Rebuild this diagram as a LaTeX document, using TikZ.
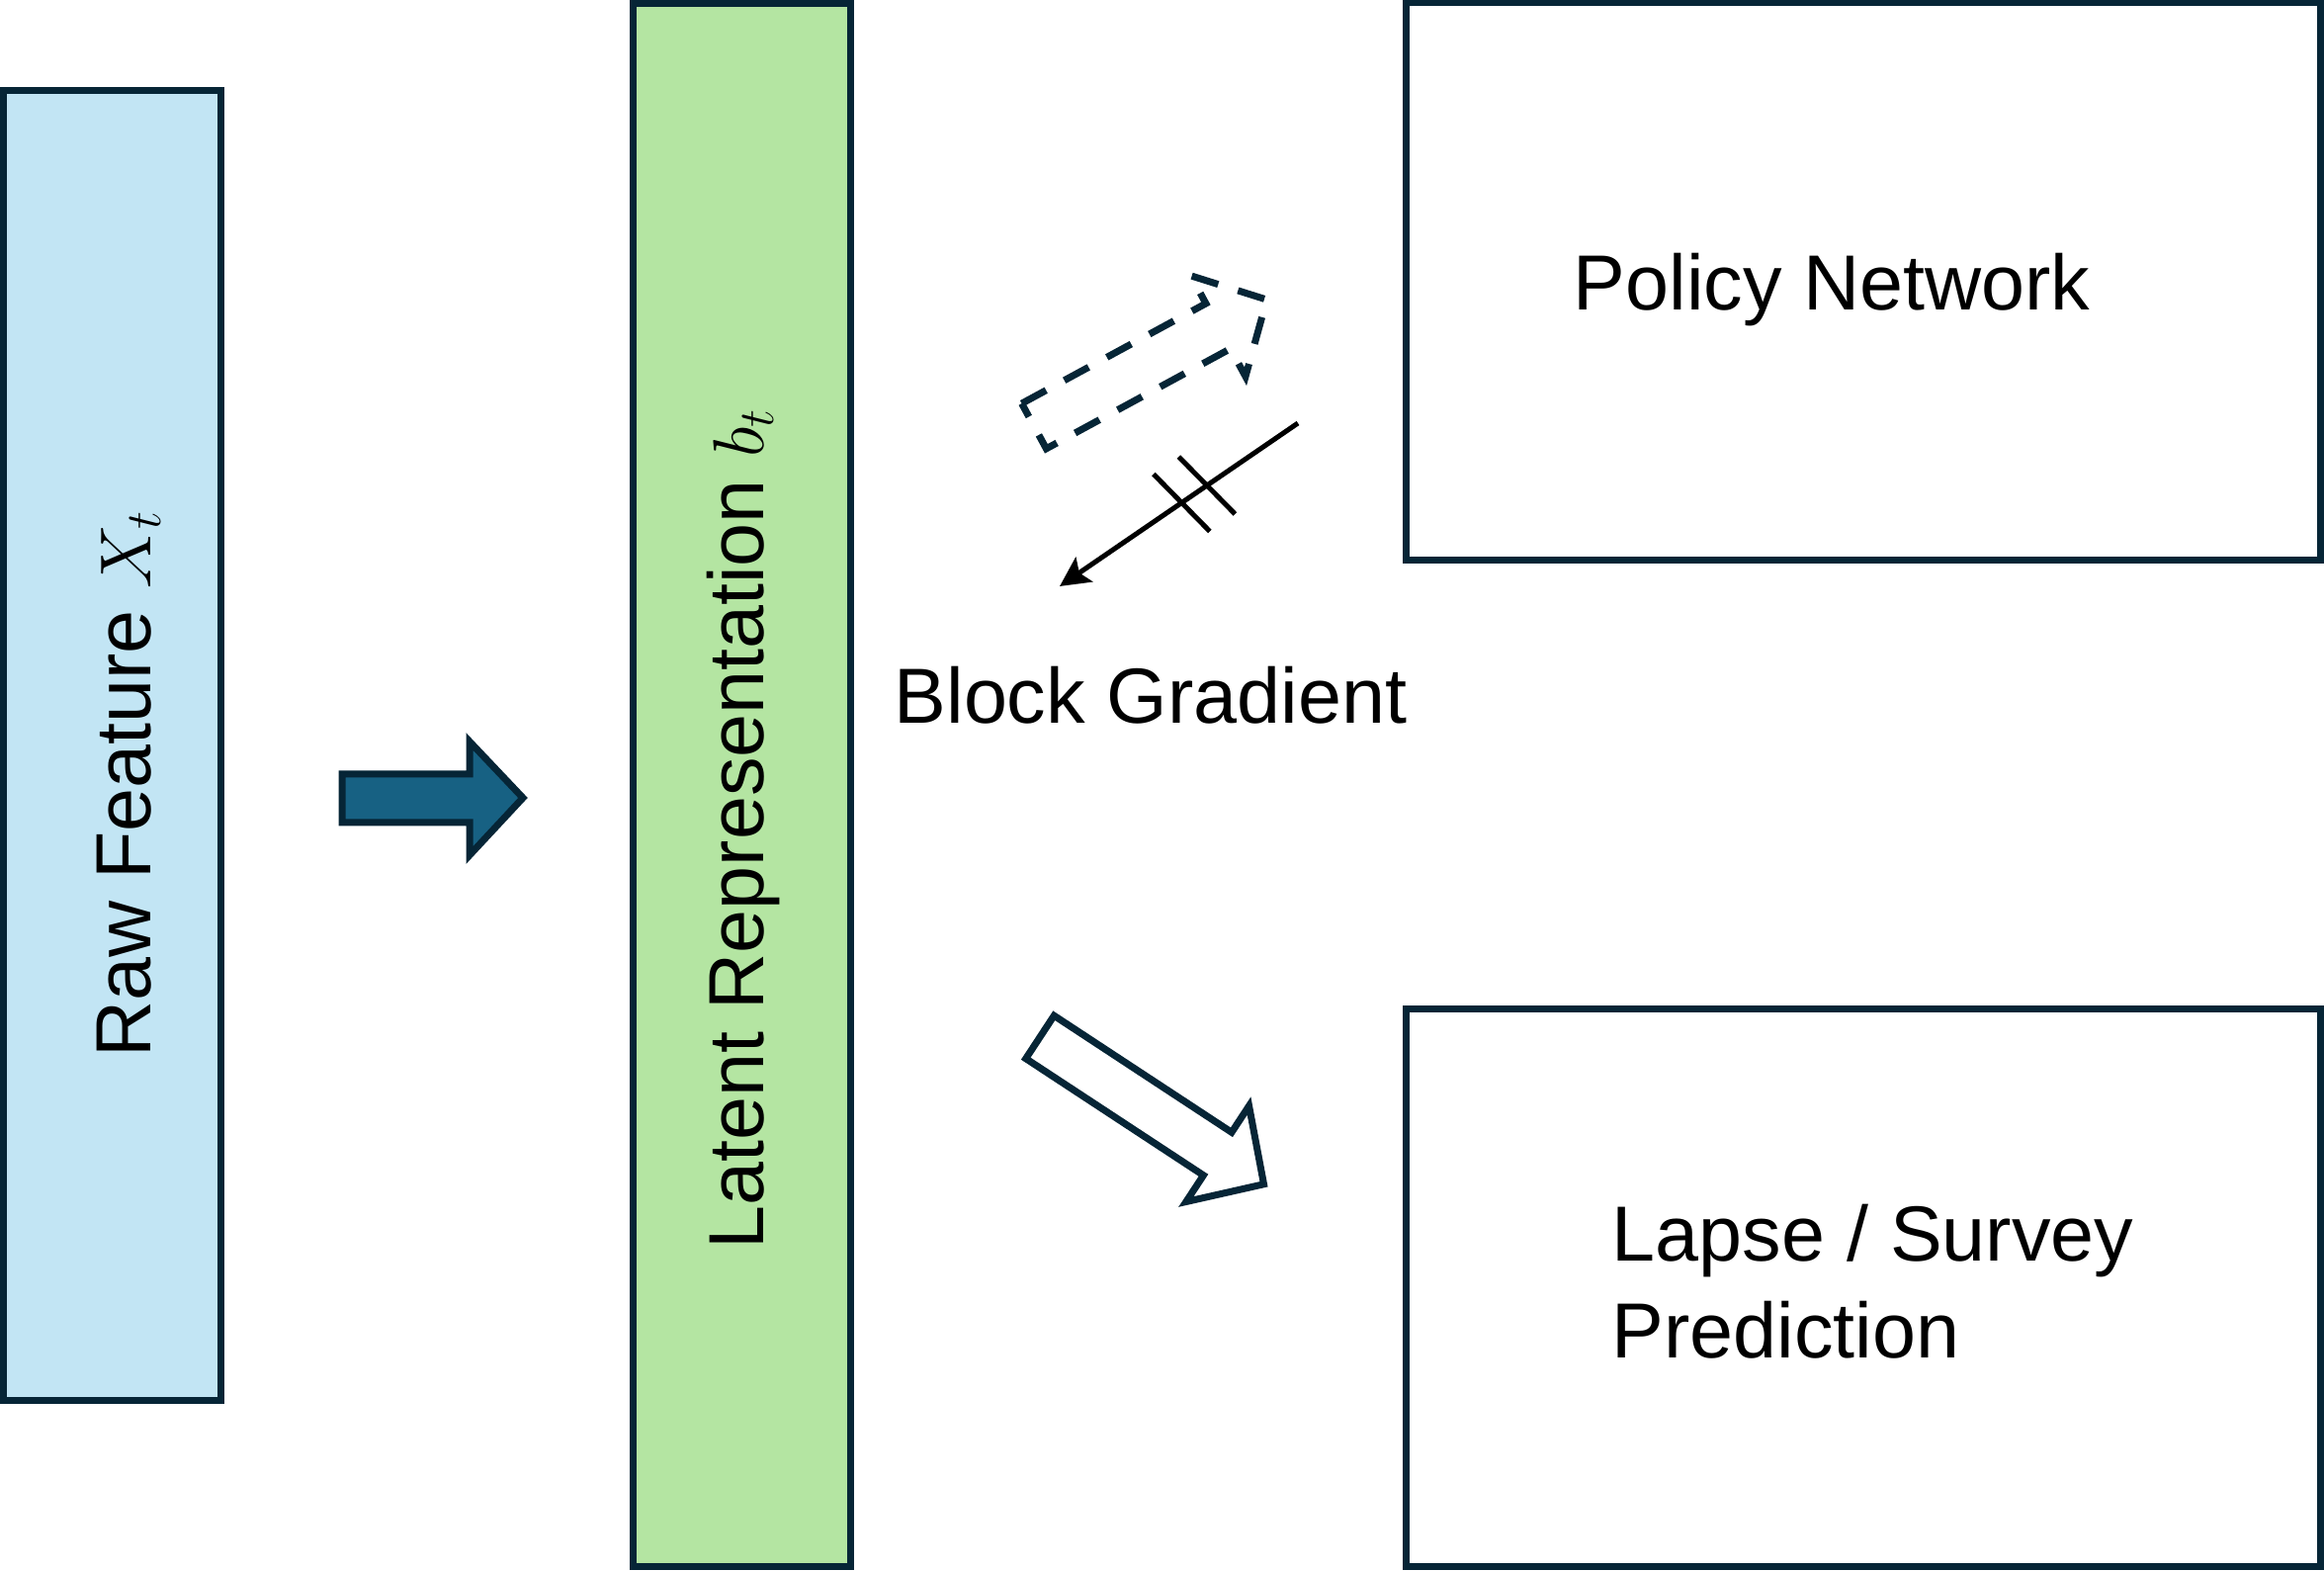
\documentclass[tikz,border=0pt]{standalone}
\usepackage{fontspec}
\setmainfont{Liberation Sans}
\usepackage{xcolor}
\usepackage{tikz}
\usetikzlibrary{arrows.meta}
\definecolor{navy}{HTML}{062536}
\definecolor{rawblue}{HTML}{C2E5F4}
\definecolor{latentgreen}{HTML}{B4E5A2}
\definecolor{flowblue}{HTML}{176183}
\tikzstyle{box} = [rectangle, draw=navy, line width=0.07cm, inner sep=0pt, minimum width=2.2cm]
\tikzstyle{rawbox} = [box, fill=rawblue, minimum height=13.25cm]
\tikzstyle{latentbox} = [box, fill=latentgreen, minimum height=15.81cm]
\tikzstyle{headbox} = [box, fill=white, minimum width=9.25cm, minimum height=5.64cm]
\tikzstyle{txt} = [inner sep=0pt, font=\fontsize{22.5}{27.9}\selectfont]
\tikzstyle{flowarrow} = [draw=navy, fill=flowblue, line width=0.07cm]
\tikzstyle{hollowarrow} = [draw=navy, fill=white, line width=0.07cm]
\tikzstyle{dasharrow} = [draw=navy, line width=0.07cm, dash pattern=on 0.28cm off 0.21cm]
\tikzstyle{gradarrow} = [black, line width=0.05cm, -{Stealth[length=0.3cm, width=0.3cm, inset=0.06cm]}]

\begin{document}
\begin{tikzpicture}
	\useasboundingbox (0,0) rectangle (23.51,15.88);
	
	\node (raw) [rawbox] at (1.135,8.34) {};
	\node (latent) [latentbox] at (7.505,7.94) {};
	\node (policy) [headbox] at (18.85,13.03) {};
	\node (lapse) [headbox] at (18.85,2.855) {};
	
	\node (rawtxt) [txt, rotate=90, anchor=base] at (1.52,7.95) {Raw Feature $X_t$};
	\node (latenttxt) [txt, rotate=90, anchor=base] at (7.72,7.50) {Latent Representation $b_t$};
	\node (policytxt) [txt, anchor=base west] at (15.91,12.74) {Policy Network};
	\node (lapsetxt) [txt, align=left, anchor=north west] at (16.30,3.71) {Lapse / Survey\\Prediction};
	\node (gradtxt) [txt, anchor=base west] at (9.04,8.56) {Block Gradient};
	
	% raw feature to latent
	\draw [flowarrow] (3.46,8.05) -- (4.75,8.05) -- (4.75,8.38) -- (5.29,7.81) -- (4.75,7.23) -- (4.75,7.56) -- (3.46,7.56) -- cycle;
	
	% latent to policy (dashed) and to lapse / survey
	\draw [dasharrow, shift={(10.46,11.57)}, rotate=28.5] (0,0.26) -- (2.12,0.26) -- (2.12,0.58) -- (2.68,0) -- (2.12,-0.58) -- (2.12,-0.26) -- (0,-0.26) -- cycle;
	\draw [hollowarrow, shift={(10.52,5.39)}, rotate=-33.3] (0,0.26) -- (2.15,0.26) -- (2.15,0.58) -- (2.71,0) -- (2.15,-0.58) -- (2.15,-0.26) -- (0,-0.26) -- cycle;
	
	% block gradient
	\coordinate (gs) at (13.13,11.60);
	\coordinate (ge) at (10.72,9.95);
	\draw [gradarrow] (gs) -- (ge) coordinate[pos=0.382] (cut1) coordinate[pos=0.488] (cut2);
	\draw [black, line width=0.05cm] ([shift={(-0.285,0.29)}]cut1) -- ([shift={(0.285,-0.29)}]cut1);
	\draw [black, line width=0.05cm] ([shift={(-0.285,0.29)}]cut2) -- ([shift={(0.285,-0.29)}]cut2);
	
\end{tikzpicture}
\end{document}
